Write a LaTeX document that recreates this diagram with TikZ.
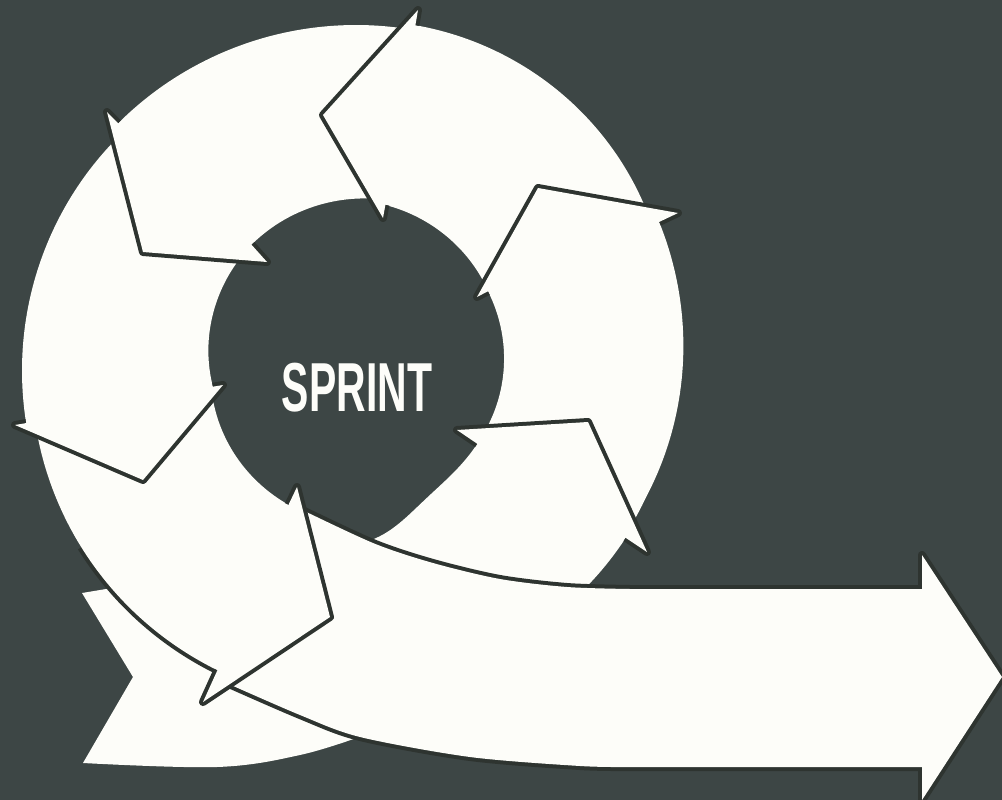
\documentclass[tikz,border=0pt]{standalone}
\usepackage{fontspec}
\setsansfont{Liberation Sans}
\usepackage{graphicx}
\definecolor{bgc}{RGB}{61,70,69}
\definecolor{wc}{RGB}{253,253,249}
\definecolor{linec}{RGB}{46,52,48}
\tikzset{
  wfill/.style={fill=wc},
  outlined/.style={fill=wc, preaction={draw=linec, line width=8pt, line join=round}},
  edgeline/.style={draw=linec, line width=8pt},
}
% ring body: outer start/end, inner start/end, outer radius expr, inner radius expr (in \q)
\newcommand{\sprintbody}[6]{%
  \fill[wfill] plot[domain=#1:#2,samples=60,variable=\q] ({356+(#5)*cos(\q)},{362-(#5)*sin(\q)})
    -- plot[domain=#4:#3,samples=60,variable=\q] ({356+(#6)*cos(\q)},{362-(#6)*sin(\q)}) -- cycle;}
\begin{document}
\begin{tikzpicture}[x=1pt,y=-1pt]
\useasboundingbox (0,0) rectangle (1002,800);
\fill[bgc] (0,0) rectangle (1002,800);

% tail piece of the spiral (behind everything)
\fill[wfill] (82,593) -- (133,677) -- (83,763)
  -- plot[smooth,tension=0.6] coordinates {(83,763) (217,767) (300,755) (362,736)}
  -- (440,712) -- (420,640) -- (300,640) -- (200,600) -- (130,585) -- cycle;

% outline of the lower-left body where it lies over the tail piece
\draw[edgeline] plot[domain=214:246.3,samples=40,variable=\q]
  ({356+(329+(\q-203)*0.21)*cos(\q)},{362-(329+(\q-203)*0.21)*sin(\q)});

% ring bodies
\sprintbody{24.3}{80.5}{27.7}{79.9}{342-13*((80-\q)/50)*((80-\q)/50)}{150+(\q-28)*0.19}
\sprintbody{79.5}{135.4}{78.9}{132.2}{337}{165-(\q-79)*0.15}
\sprintbody{134.4}{191}{131.2}{190.3}{327+(\q-134)*0.15}{157-(\q-131)*0.2}
\sprintbody{190}{246.3}{189.3}{245.2}{329+(\q-203)*0.21}{147+(\q-190)*0.2}
\sprintbody{245.3}{327.4}{244.2}{326.5}{322}{146+42/(1+exp((\q-285)/8))}
\sprintbody{326.4}{385.3}{325.5}{388.7}{320+0.28*max(0,\q-335)}{146+(\q-326)*0.06}

% big exit arrow
\path[outlined] plot[smooth,tension=0.5] coordinates {(294,506) (373,543) (433,563) (500,579) (567,587) (630,589)}
  -- (922,589) -- (922,555) -- (1002,677) -- (922,800) -- (922,767)
  -- plot[smooth,tension=0.5] coordinates {(630,767) (580,766) (470,757) (360,737) (300,715) (222,681)} -- cycle;

% arrow heads of the ring segments
\path[outlined] (415.4,25.2) -- (418,10) -- (323,115) -- (383,218) -- (385.4,204.9);
\path[outlined] (118.1,123.3) -- (107,112) -- (143,252) -- (267,262) -- (251.5,244.7);
\path[outlined] (26.1,423.1) -- (15,425) -- (143,480) -- (223,385) -- (212.9,386.7);
\path[outlined] (217.4,670.3) -- (203,702) -- (330,617) -- (297,487) -- (288.5,504.8);
\path[outlined] (659.2,221.9) -- (678,213) -- (538,188) -- (477,297) -- (487.9,291.3);
\path[outlined] (625.7,537.8) -- (647,552) -- (588,422) -- (457,430) -- (477.3,443.8);

% label
\node[text=wc, inner sep=0pt] (sprint) at (357,387.5) {\resizebox{150pt}{48.4pt}{\sffamily\bfseries SPRINT}};
\end{tikzpicture}
\end{document}
